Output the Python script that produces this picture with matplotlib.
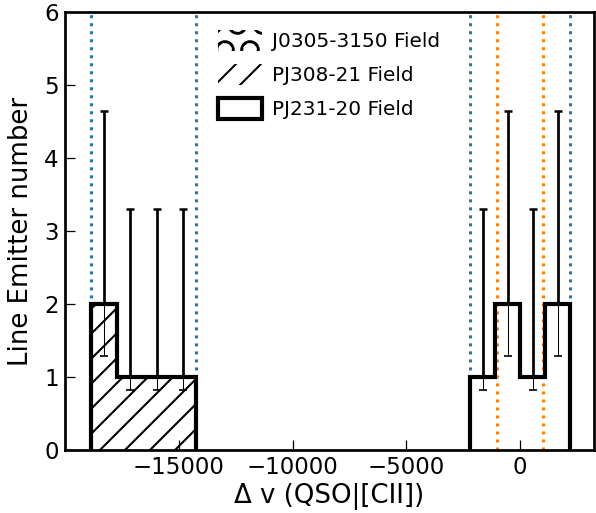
import numpy as np
import matplotlib
matplotlib.use('Agg')
import matplotlib.pyplot as plt
from matplotlib.patches import Patch

# histogram bins (velocity offset, km/s) and counts
pj308_edges = [-18850, -17700, -16550, -15400, -14250]
pj308_counts = [2, 1, 1, 1]
pj231_edges = [-2200, -1100, 0, 1100, 2200]
pj231_counts = [1, 2, 1, 2]

# poisson (Gehrels) 1-sigma limits
err_low = {1: 0.173, 2: 0.708}
err_up = {1: 2.30, 2: 2.638}

# reference velocity windows
blue_lines = [-18850, -14250, -2200, 2200]
orange_lines = [-1000, 1000]

dpi = 150
fig = plt.figure(figsize=(596 / dpi, 513 / dpi), dpi=dpi)
ax = fig.add_axes([65 / 596, 63 / 513, 529 / 596, 438 / 513])

for x in blue_lines:
    ax.axvline(x, color='C0', ls=':', lw=1.45, zorder=1)
for x in orange_lines:
    ax.axvline(x, color='C1', ls=':', lw=1.45, zorder=1)

ax.stairs(pj308_counts, pj308_edges, fill=False, hatch='//', edgecolor='k', lw=2.0, zorder=3)
ax.stairs(pj231_counts, pj231_edges, fill=False, edgecolor='k', lw=2.0, zorder=3)

for edges, counts in [(pj308_edges, pj308_counts), (pj231_edges, pj231_counts)]:
    edges = np.array(edges)
    centers = 0.5 * (edges[:-1] + edges[1:])
    counts = np.array(counts)
    lo = np.array([err_low[c] for c in counts])
    up = np.array([err_up[c] for c in counts])
    # thin part inside the bar, thick part above
    ax.vlines(centers, counts - lo, counts, color='k', lw=0.5, zorder=4)
    ax.vlines(centers, counts, counts + up, color='k', lw=1.3, zorder=4)
    ax.plot(centers, counts - lo, ls='none', marker='_', ms=3.6, mew=0.8, color='k', zorder=4)
    ax.plot(centers, counts + up, ls='none', marker='_', ms=3.6, mew=1.2, color='k', zorder=4)

ax.set_xlim(-20000, 3250)
ax.set_ylim(0, 6)
ax.set_xticks([-15000, -10000, -5000, 0])
ax.set_yticks([0, 1, 2, 3, 4, 5, 6])
ax.tick_params(direction='in', length=4.8, width=0.6, labelsize=11, pad=3)
for s in ax.spines.values():
    s.set_linewidth(1.3)

ax.set_xlabel('Δ v (QSO|[CII])', fontsize=12.5, labelpad=2)
ax.set_ylabel('Line Emitter number', fontsize=12.5, labelpad=5)

handles = [
    Patch(facecolor='none', edgecolor='k', hatch='O', lw=0),
    Patch(facecolor='none', edgecolor='k', hatch='//', lw=0),
    Patch(facecolor='none', edgecolor='k', lw=2.0),
]
labels = ['J0305-3150 Field', 'PJ308-21 Field', 'PJ231-20 Field']
ax.legend(handles, labels, loc='upper left', bbox_to_anchor=(0.289, 0.958),
          frameon=False, fontsize=9.6, handlelength=2.2, handleheight=1.2,
          labelspacing=0.65, borderpad=0, borderaxespad=0, handletextpad=0.5)

fig.savefig('out.png', dpi=dpi)
